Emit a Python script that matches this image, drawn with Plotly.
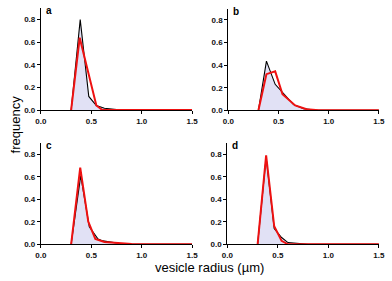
import plotly.graph_objects as go

# Panel a
a_black_x = [0.3, 0.39, 0.475, 0.55, 0.63, 0.72, 0.8, 1.5]
a_black_y = [0, 0.80, 0.12, 0.04, 0.015, 0.01, 0, 0]
a_red_x = [0.3, 0.385, 0.55, 0.61, 1.5]
a_red_y = [0, 0.64, 0.04, 0, 0]
# Panel b
b_black_x = [0.3, 0.38, 0.467, 0.55, 0.65, 0.75, 0.85, 1.5]
b_black_y = [0, 0.435, 0.23, 0.15, 0.05, 0.015, 0.003, 0]
b_red_x = [0.3, 0.38, 0.467, 0.54, 0.666, 0.78, 0.9, 1.5]
b_red_y = [0, 0.32, 0.345, 0.142, 0.043, 0.01, 0, 0]
# Panel c
c_black_x = [0.3, 0.395, 0.48, 0.52, 0.567, 0.615, 0.70, 0.8, 0.9, 1.5]
c_black_y = [0, 0.61, 0.155, 0.10, 0.047, 0.03, 0.02, 0.005, 0, 0]
c_red_x = [0.3, 0.39, 0.47, 0.54, 0.63, 0.75, 0.9, 1.2, 1.5]
c_red_y = [0, 0.68, 0.20, 0.047, 0.02, 0.01, 0.003, 0, 0]
# Panel d
d_black_x = [0.3, 0.384, 0.464, 0.537, 0.6, 0.7, 0.8, 1.5]
d_black_y = [0, 0.77, 0.14, 0.06, 0.015, 0.005, 0, 0]
d_red_x = [0.3, 0.384, 0.464, 0.537, 0.6, 1.5]
d_red_y = [0, 0.79, 0.16, 0.03, 0, 0]

panel_labels = ["a", "b", "c", "d"]
x_tickvals = [0, 0.5, 1.0, 1.5]
x_ticktext = ["0.0", "0.5", "1.0", "1.5"]
y_tickvals = [0, 0.2, 0.4, 0.6, 0.8]
y_ticktext = ["0.0", "0.2", "0.4", "0.6", "0.8"]

W, H = 392, 281
panels = [
    (a_black_x, a_black_y, a_red_x, a_red_y, (36, 192), (112, 8.5)),
    (b_black_x, b_black_y, b_red_x, b_red_y, (229.3, 384.7), (112.3, 8.8)),
    (c_black_x, c_black_y, c_red_x, c_red_y, (36, 192), (248.7, 145.5)),
    (d_black_x, d_black_y, d_red_x, d_red_y, (228.3, 384.7), (248.7, 145.5)),
]

fig = go.Figure()
layout = dict(
    width=W, height=H, margin=dict(l=0, r=0, t=0, b=0),
    paper_bgcolor="white", plot_bgcolor="white", showlegend=False,
    font=dict(family="Liberation Sans, Arial, sans-serif", color="black"),
)
annotations = []
for i, (bx, by, rx, ry, (x0, x1), (y0, y1)) in enumerate(panels):
    n = i + 1
    xa = "x" if n == 1 else f"x{n}"
    ya = "y" if n == 1 else f"y{n}"
    fig.add_trace(go.Scatter(x=bx, y=by, mode="lines", xaxis=xa, yaxis=ya,
                             line=dict(color="black", width=1.1),
                             fill="tozeroy", fillcolor="rgba(225,225,245,1)"))
    fig.add_trace(go.Scatter(x=rx, y=ry, mode="lines", xaxis=xa, yaxis=ya,
                             line=dict(color="#ee1111", width=2)))
    axcommon = dict(showgrid=False, zeroline=False, showline=True, linecolor="black",
                    linewidth=1, ticks="outside", ticklen=3, tickwidth=1, tickcolor="black",
                    ticklabeloverflow="allow",
                    tickfont=dict(size=8, family="Liberation Sans, Arial", color="#111"))
    layout["xaxis" if n == 1 else f"xaxis{n}"] = dict(
        axcommon, domain=[x0 / W, x1 / W], range=[0, 1.5], anchor=ya,
        tickvals=x_tickvals, ticktext=[f"<b>{t}</b>" for t in x_ticktext])
    layout["yaxis" if n == 1 else f"yaxis{n}"] = dict(
        axcommon, domain=[1 - y0 / H, 1 - y1 / H], range=[0, 0.9], anchor=xa,
        tickvals=y_tickvals, ticktext=[f"<b>{t}</b>" for t in y_ticktext])
    annotations.append(dict(text=f"<b>{panel_labels[i]}</b>", xref="paper", yref="paper",
                            x=(x0 + 3) / W, y=1 - (y1 - 5) / H, xanchor="left", yanchor="top",
                            showarrow=False, font=dict(size=10)))

annotations.append(dict(text="frequency", xref="paper", yref="paper", x=10 / W, y=1 - 127 / H,
                        textangle=-90, showarrow=False, font=dict(size=13),
                        xanchor="center", yanchor="middle"))
annotations.append(dict(text="vesicle radius (µm)", xref="paper", yref="paper",
                        x=210 / W, y=1 - 272 / H, showarrow=False, font=dict(size=13),
                        xanchor="center", yanchor="middle"))
layout["annotations"] = annotations
fig.update_layout(**layout)
fig.write_html("out.html", config={"displayModeBar": False, "staticPlot": True},
               post_script="document.body.style.margin='0';document.body.style.padding='0';"
                           "document.body.style.overflow='hidden';")
